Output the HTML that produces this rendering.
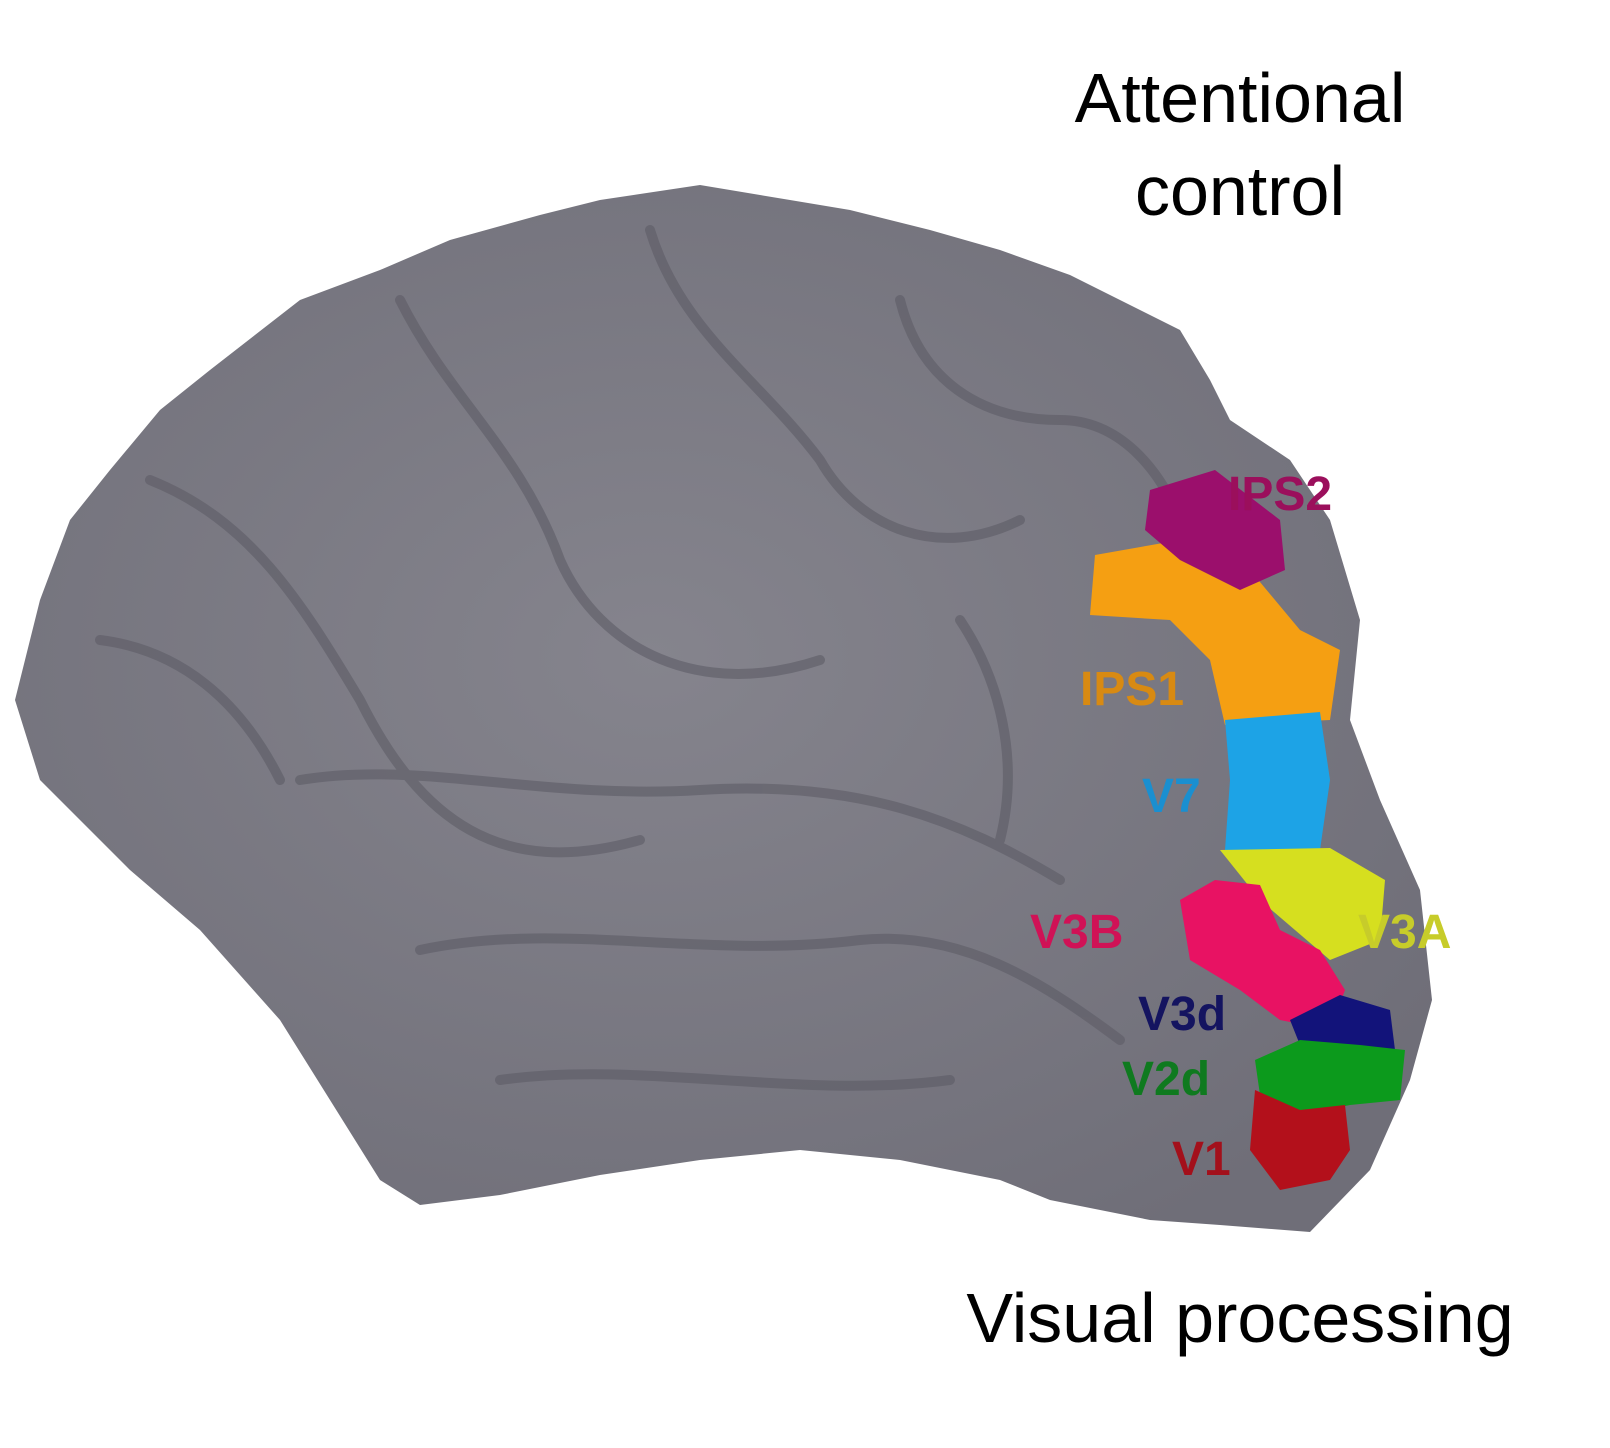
<!DOCTYPE html>
<html><head><meta charset="utf-8"><style>
html,body{margin:0;padding:0;background:#fff;}
svg{display:block;}
</style></head><body>
<svg width="1610" height="1448" viewBox="0 0 1610 1448">
<defs>
<radialGradient id="g" cx="45%" cy="45%" r="65%">
<stop offset="0" stop-color="#85848d"/><stop offset="1" stop-color="#6f6e78"/>
</radialGradient>
</defs>
<path fill="url(#g)" d="M15,700 L40,600 L70,520 L110,470 L160,410 L210,370 L300,300 L380,270 L450,240 L540,215 L600,200 L700,185 L790,200 L850,210 L930,230 L1000,250 L1070,275 L1120,300 L1180,330 L1210,380 L1230,420 L1290,460 L1330,520 L1360,620 L1350,720 L1380,800 L1420,890 L1432,1000 L1410,1080 L1370,1170 L1310,1232 L1220,1225 L1150,1220 L1050,1200 L1000,1180 L900,1160 L800,1150 L700,1160 L600,1175 L500,1195 L420,1205 L380,1180 L330,1100 L280,1020 L200,930 L130,870 L80,820 L40,780 Z"/>
<g fill="none" stroke="#5d5c66" stroke-width="10" stroke-linecap="round" opacity="0.6">
<path d="M150,480 C250,520 300,600 360,700 C420,820 500,880 640,840"/>
<path d="M400,300 C450,400 520,450 560,560 C600,650 700,700 820,660"/>
<path d="M650,230 C680,330 760,380 820,460 C860,530 940,560 1020,520"/>
<path d="M300,780 C420,760 540,800 700,790 C860,780 960,820 1060,880"/>
<path d="M420,950 C560,920 700,960 860,940 C960,930 1040,980 1120,1040"/>
<path d="M500,1080 C640,1060 800,1100 950,1080"/>
<path d="M900,300 C920,380 980,420 1060,420 C1120,420 1160,470 1180,520"/>
<path d="M100,640 C180,650 240,700 280,780"/>
<path d="M960,620 C1000,680 1020,760 1000,840"/>
</g>
<g>
<path fill="#f59f12" d="M1095,555 L1180,540 L1250,570 L1300,630 L1340,650 L1330,720 L1225,725 L1210,660 L1170,620 L1090,615 Z"/>
<path fill="#9b0f6c" d="M1150,490 L1215,470 L1280,520 L1285,570 L1240,590 L1180,560 L1145,530 Z"/>
<path fill="#1da3e6" d="M1225,720 L1320,712 L1330,780 L1320,850 L1225,850 L1230,780 Z"/>
<path fill="#d6df1f" d="M1220,850 L1330,848 L1385,880 L1380,940 L1330,960 L1260,900 Z"/>
<path fill="#e81263" d="M1180,900 L1215,880 L1260,885 L1280,930 L1320,950 L1345,990 L1330,1030 L1280,1020 L1240,990 L1190,960 Z"/>
<path fill="#12137a" d="M1290,1020 L1340,995 L1390,1010 L1395,1050 L1350,1065 L1300,1045 Z"/>
<path fill="#0c9a1c" d="M1255,1060 L1300,1040 L1360,1045 L1405,1050 L1400,1100 L1350,1105 L1300,1115 L1260,1095 Z"/>
<path fill="#b3101b" d="M1255,1090 L1300,1110 L1345,1105 L1350,1150 L1330,1180 L1280,1190 L1250,1150 Z"/>
</g>
<g font-family="Liberation Sans, Arial, sans-serif" font-weight="bold" font-size="48">
<text x="1228" y="510" fill="#9b0f5c">IPS2</text>
<text x="1080" y="705" fill="#d88a12">IPS1</text>
<text x="1142" y="812" fill="#1a8fd0">V7</text>
<text x="1030" y="948" fill="#d01256">V3B</text>
<text x="1358" y="948" fill="#c7cc2a">V3A</text>
<text x="1138" y="1030" fill="#141460">V3d</text>
<text x="1122" y="1095" fill="#0f7a1f">V2d</text>
<text x="1172" y="1175" fill="#a3101b">V1</text>
</g>
<g font-family="Liberation Sans, sans-serif" font-size="70" fill="#000" text-anchor="middle">
<text x="1240" y="122">Attentional</text>
<text x="1240" y="215">control</text>
<text x="1240" y="1342">Visual processing</text>
</g>
</svg>
</body></html>
